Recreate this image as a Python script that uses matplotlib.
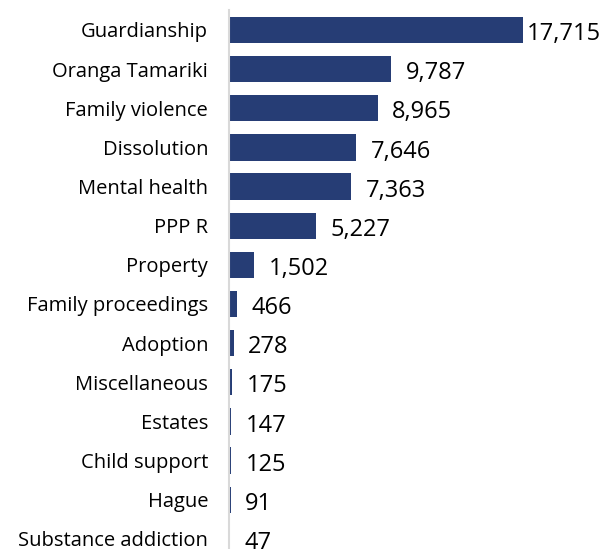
import matplotlib
matplotlib.use("Agg")
import matplotlib.pyplot as plt

categories = [
    "Guardianship", "Oranga Tamariki", "Family violence", "Dissolution",
    "Mental health", "PPP R", "Property", "Family proceedings", "Adoption",
    "Miscellaneous", "Estates", "Child support", "Hague", "Substance addiction",
]
values = [17715, 9787, 8965, 7646, 7363, 5227, 1502, 466, 278, 175, 147, 125, 91, 47]
value_labels = ["17,715", "9,787", "8,965", "7,646", "7,363", "5,227", "1,502",
                "466", "278", "175", "147", "125", "91", "47"]

plt.rcParams["font.family"] = ["Open Sans", "DejaVu Sans"]

W, H = 604, 549
fig = plt.figure(figsize=(W / 100, H / 100), dpi=100)
ax = fig.add_axes([229 / W, 0, (594 - 229) / W, 1 - 10 / H])

pos = list(range(len(categories)))
ax.barh(pos, values, height=0.67, color="#263D75")

ax.set_xlim(0, 22000)
ax.set_ylim(13.26, -0.51)

for i, (v, lab) in enumerate(zip(values, value_labels)):
    dx = 3 if i == 0 else 10.5
    ax.annotate(lab, xy=(v, i), xytext=(dx, -3), textcoords="offset points",
                ha="left", va="center", fontsize=17, color="#000000",
                annotation_clip=False)

ax.set_yticks(pos)
ax.set_yticklabels(categories, fontsize=14.5, color="#000000")
ax.tick_params(axis="y", length=0, pad=15)
ax.set_xticks([])

for s in ["top", "right", "bottom"]:
    ax.spines[s].set_visible(False)
ax.spines["left"].set_color("#D9D9D9")
ax.spines["left"].set_linewidth(1.5)

fig.savefig("out.png", dpi=100)
